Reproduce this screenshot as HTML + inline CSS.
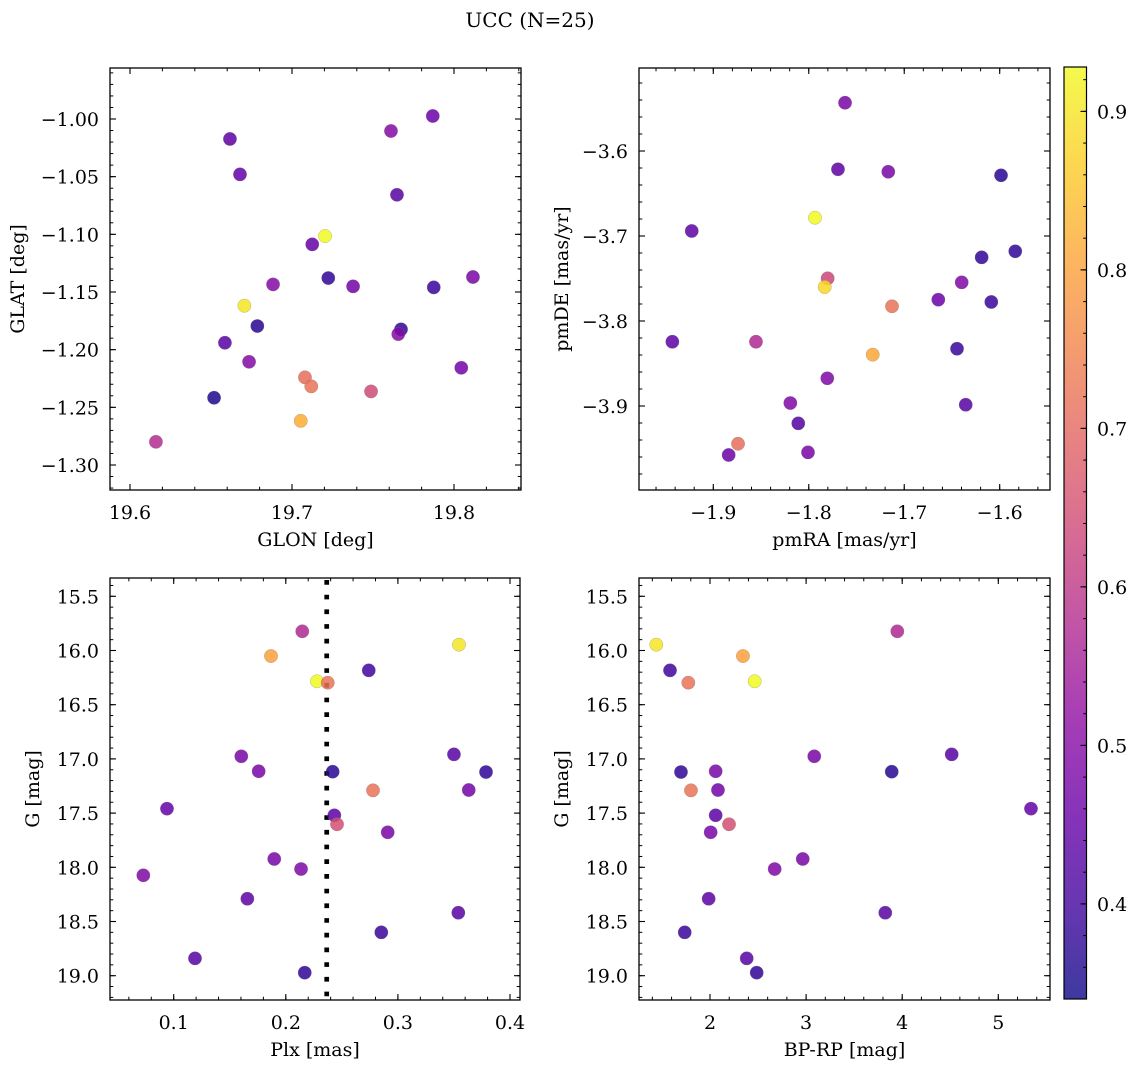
<!DOCTYPE html>
<html><head><meta charset="utf-8"><style>
html,body{margin:0;padding:0;background:#fff;}
svg{display:block;font-family:"DejaVu Serif","Liberation Serif",serif;}
</style></head><body>
<svg id="fig" width="1136" height="1067" viewBox="0 0 1136 1067" xmlns="http://www.w3.org/2000/svg">
<defs>
<linearGradient id="plasmaGrad" x1="0" y1="1" x2="0" y2="0">
<stop offset="0" stop-color="#0d0887"/><stop offset="0.1" stop-color="#41049d"/><stop offset="0.2" stop-color="#6a00a8"/><stop offset="0.3" stop-color="#8f0da4"/><stop offset="0.4" stop-color="#b12a90"/><stop offset="0.5" stop-color="#cc4778"/><stop offset="0.6" stop-color="#e16462"/><stop offset="0.7" stop-color="#f2844b"/><stop offset="0.8" stop-color="#fca636"/><stop offset="0.9" stop-color="#fcce25"/><stop offset="1" stop-color="#f0f921"/>
</linearGradient>
</defs>
<text x="530" y="27" font-size="20" text-anchor="middle">UCC (N=25)</text>
</svg>
<script>
// ---- data ----
const glon = [19.6617,19.6679,19.7611,19.7869,19.7648,19.7204,19.7125,19.6883,19.7224,19.7377,19.6706,19.6786,19.7673,19.7656,19.7875,19.8117,19.6586,19.6735,19.7080,19.7119,19.7488,19.8045,19.6519,19.7054,19.6160];
const glat = [-1.0173,-1.0480,-1.0104,-0.9974,-1.0657,-1.1015,-1.1087,-1.1434,-1.1379,-1.1451,-1.1619,-1.1795,-1.1824,-1.1865,-1.1460,-1.1370,-1.1940,-1.2105,-1.2240,-1.2318,-1.2362,-1.2157,-1.2417,-1.2617,-1.2799];
const probP1 = [0.44,0.45,0.50,0.46,0.43,0.93,0.45,0.50,0.38,0.47,0.90,0.37,0.38,0.50,0.39,0.48,0.43,0.50,0.71,0.72,0.64,0.47,0.36,0.82,0.58];

const pmra = [-1.7620,-1.7694,-1.7167,-1.5986,-1.9226,-1.7935,-1.7802,-1.7833,-1.6189,-1.5837,-1.6643,-1.6398,-1.6088,-1.7128,-1.9429,-1.8553,-1.6447,-1.7330,-1.7806,-1.8193,-1.8110,-1.6356,-1.8741,-1.8839,-1.8008];
const pmde = [-3.5432,-3.6215,-3.6244,-3.6286,-3.6941,-3.6785,-3.7498,-3.7600,-3.7251,-3.7180,-3.7749,-3.7545,-3.7776,-3.7827,-3.8244,-3.8244,-3.8326,-3.8396,-3.8674,-3.8965,-3.9204,-3.8985,-3.9444,-3.9576,-3.9545];
const probP2 = [0.48,0.44,0.48,0.37,0.44,0.93,0.63,0.88,0.38,0.38,0.46,0.49,0.39,0.72,0.44,0.57,0.39,0.81,0.49,0.49,0.42,0.43,0.71,0.46,0.48];

const plx = [0.2147,0.1868,0.3545,0.2740,0.2278,0.2374,0.1603,0.1758,0.2418,0.3500,0.3786,0.2778,0.3632,0.0940,0.2433,0.2457,0.2909,0.1897,0.2136,0.0729,0.1657,0.3539,0.2852,0.1190,0.2169];
const gmagP3 = [15.823,16.051,15.946,16.183,16.284,16.297,16.976,17.114,17.118,16.958,17.121,17.290,17.287,17.459,17.520,17.603,17.677,17.923,18.016,18.074,18.290,18.419,18.600,18.840,18.972];
const probP3 = [0.57,0.80,0.90,0.40,0.93,0.72,0.48,0.48,0.37,0.43,0.38,0.72,0.47,0.45,0.44,0.65,0.48,0.48,0.49,0.49,0.44,0.43,0.39,0.43,0.38];
const plxLine = 0.2365;

const bprp = [1.441,1.584,1.774,2.343,2.465,3.949,3.085,4.515,1.698,2.059,3.891,1.802,2.083,5.340,2.059,2.198,2.007,2.965,2.673,1.986,3.824,1.737,2.382,2.486];
const gmagP4 = [15.946,16.183,16.297,16.051,16.284,15.823,16.976,16.958,17.121,17.114,17.118,17.290,17.287,17.459,17.520,17.603,17.677,17.923,18.016,18.290,18.419,18.600,18.840,18.972];
const probP4 = [0.90,0.40,0.72,0.80,0.93,0.57,0.48,0.43,0.38,0.48,0.37,0.72,0.47,0.45,0.44,0.65,0.48,0.48,0.49,0.44,0.43,0.39,0.43,0.38];

const ticksGlon = [19.6,19.7,19.8];
const ticksGlat = [-1.00,-1.05,-1.10,-1.15,-1.20,-1.25,-1.30];
const ticksPmra = [-1.9,-1.8,-1.7,-1.6];
const ticksPmde = [-3.6,-3.7,-3.8,-3.9];
const ticksPlx = [0.1,0.2,0.3,0.4];
const ticksG = [15.5,16.0,16.5,17.0,17.5,18.0,18.5,19.0];
const ticksBprp = [2,3,4,5];
const ticksCbar = [0.4,0.5,0.6,0.7,0.8,0.9];
const cbarMin = 0.340, cbarMax = 0.928;

// ---- helpers ----
const NS = "http://www.w3.org/2000/svg";
const svg = document.getElementById('fig');
const FS = 19;
function mk(tag, attrs, parent){const e=document.createElementNS(NS,tag);for(const k in attrs)e.setAttribute(k,attrs[k]);(parent||svg).appendChild(e);return e;}
function lin(v0,p0,v1,p1){const f=v=>p0+(v-v0)*(p1-p0)/(v1-v0);f.inv=p=>v0+(p-p0)*(v1-v0)/(p1-p0);return f;}
const plasma=[[13,8,135],[65,4,157],[106,0,168],[143,13,164],[177,42,144],[204,71,120],[225,100,98],[242,132,75],[252,166,54],[252,206,37],[240,249,33]];
function cmap(v){let t=(v-cbarMin)/(cbarMax-cbarMin);t=Math.max(0,Math.min(1,t))*10;const i=Math.min(9,Math.floor(t)),f=t-i;const a=plasma[i],b=plasma[i+1];return `rgb(${Math.round(a[0]+(b[0]-a[0])*f)},${Math.round(a[1]+(b[1]-a[1])*f)},${Math.round(a[2]+(b[2]-a[2])*f)})`;}
function fmt(v,d){return (v<0?"\u2212":"")+Math.abs(v).toFixed(d);}

function panel(o){
  const g=mk('g',{});
  
  
  const {L,R,T,B,xs,ys}=o;
  const xlo=Math.min(xs.inv(L),xs.inv(R)), xhi=Math.max(xs.inv(L),xs.inv(R));
  for(let k=Math.ceil(xlo/o.xminor-1e-6);k*o.xminor<=xhi+1e-9;k++){
    const px=xs(k*o.xminor);
    const t1=mk('line',{x1:px,x2:px,y1:B,y2:B-3.3,stroke:'#000','stroke-width':1},g);
    
    const t2=mk('line',{x1:px,x2:px,y1:T,y2:T+3.3,stroke:'#000','stroke-width':1},g);
    
  }
  const ylo=Math.min(ys.inv(T),ys.inv(B)), yhi=Math.max(ys.inv(T),ys.inv(B));
  for(let k=Math.ceil(ylo/o.yminor-1e-6);k*o.yminor<=yhi+1e-9;k++){
    const py=ys(k*o.yminor);
    const t1=mk('line',{x1:L,x2:L+3.3,y1:py,y2:py,stroke:'#000','stroke-width':1},g);
    
    const t2=mk('line',{x1:R,x2:R-3.3,y1:py,y2:py,stroke:'#000','stroke-width':1},g);
    
  }
  o.xticks.forEach(v=>{
    const px=xs(v);
    const t1=mk('line',{x1:px,x2:px,y1:B,y2:B-6,stroke:'#000','stroke-width':1.1},g);
    
    const t2=mk('line',{x1:px,x2:px,y1:T,y2:T+6,stroke:'#000','stroke-width':1.1},g);
    
    const lb=mk('text',{x:px,y:B+29,'font-size':FS,'text-anchor':'middle'},g);
    
    lb.textContent=fmt(v,o.xdec);
  });
  o.yticks.forEach(v=>{
    const py=ys(v);
    const t1=mk('line',{x1:L,x2:L+6,y1:py,y2:py,stroke:'#000','stroke-width':1.1},g);
    
    const t2=mk('line',{x1:R,x2:R-6,y1:py,y2:py,stroke:'#000','stroke-width':1.1},g);
    
    const lb=mk('text',{x:L-11,y:py+7,'font-size':FS,'text-anchor':'end'},g);
    
    lb.textContent=fmt(v,o.ydec);
  });
  if(o.vline!==undefined){
    const vx=xs(o.vline);
    const vl=mk('line',{x1:vx,x2:vx,y1:T+2,y2:B,stroke:'#000','stroke-width':4.7,'stroke-dasharray':'4.7 10'},g);
    
  }
  o.x.forEach((xv,i)=>{
    const c=mk('circle',{cx:xs(xv),cy:ys(o.y[i]),r:6.7,fill:cmap(o.c[i]),'fill-opacity':0.85,stroke:'#777','stroke-opacity':0.5,'stroke-width':0.5},g);
    
    
  });
  const fr=mk('rect',{x:L,y:T,width:R-L,height:B-T,fill:'none',stroke:'#000','stroke-width':1.3},g);
  
  const xl=mk('text',{x:(L+R)/2,y:B+56,'font-size':FS,'text-anchor':'middle'},g);
  
  xl.textContent=o.xlabel;
  const yl=mk('text',{x:0,y:0,'font-size':FS,'text-anchor':'middle',transform:`translate(${o.ylx},${(T+B)/2}) rotate(-90)`},g);
  
  yl.textContent=o.ylabel;
}

const gYs=lin(15.5,596.3,19.0,975.7);
panel({name:'glon-glat-panel',L:110,R:521,T:68,B:490,xs:lin(19.6,130,19.8,454),ys:lin(-1.0,119,-1.3,465),
  xticks:ticksGlon,yticks:ticksGlat,xminor:0.02,yminor:0.01,xdec:1,ydec:2,x:glon,y:glat,c:probP1,xlabel:'GLON [deg]',ylabel:'GLAT [deg]',ylx:24});
panel({name:'pm-panel',L:639,R:1050,T:68,B:490,xs:lin(-1.9,713.3,-1.6,999.7),ys:lin(-3.6,151,-3.9,406),
  xticks:ticksPmra,yticks:ticksPmde,xminor:0.02,yminor:0.02,xdec:1,ydec:1,x:pmra,y:pmde,c:probP2,xlabel:'pmRA [mas/yr]',ylabel:'pmDE [mas/yr]',ylx:568});
panel({name:'plx-g-panel',L:110,R:520,T:578,B:1000,xs:lin(0.1,173.7,0.4,510),ys:gYs,
  xticks:ticksPlx,yticks:ticksG,xminor:0.02,yminor:0.1,xdec:1,ydec:1,x:plx,y:gmagP3,c:probP3,xlabel:'Plx [mas]',ylabel:'G [mag]',ylx:39,vline:plxLine});
panel({name:'cmd-panel',L:639,R:1050,T:578,B:1000,xs:lin(2,710,5,998.3),ys:gYs,
  xticks:ticksBprp,yticks:ticksG,xminor:0.2,yminor:0.1,xdec:0,ydec:1,x:bprp,y:gmagP4,c:probP4,xlabel:'BP-RP [mag]',ylabel:'G [mag]',ylx:568});

// colorbar
const cb=mk('g',{});


const CL=1064,CR=1086.5,CT=67,CB=999;
const cys=lin(cbarMin,CB,cbarMax,CT);
const cr=mk('rect',{x:CL,y:CT,width:CR-CL,height:CB-CT,fill:'url(#plasmaGrad)','fill-opacity':0.8},cb);

for(let k=Math.ceil(cbarMin/0.02);k*0.02<=cbarMax;k++){
  const py=cys(k*0.02);
  const t=mk('line',{x1:CR,x2:CR-3.3,y1:py,y2:py,stroke:'#000','stroke-width':1},cb);
  
}
ticksCbar.forEach(v=>{
  const py=cys(v);
  const t=mk('line',{x1:CR,x2:CR-6,y1:py,y2:py,stroke:'#000','stroke-width':1.1},cb);
  
  const lb=mk('text',{x:1097,y:py+7,'font-size':FS},cb);
  
  lb.textContent=v.toFixed(1);
});
const cf=mk('rect',{x:CL,y:CT,width:CR-CL,height:CB-CT,fill:'none',stroke:'#000','stroke-width':1.2},cb);

</script>
</body></html>
